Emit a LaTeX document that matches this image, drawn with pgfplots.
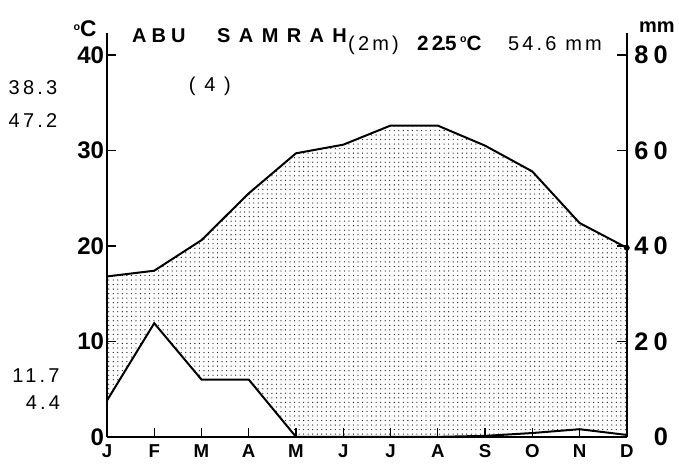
\documentclass[border=0pt]{standalone}
\usepackage{fontspec}
\setmainfont{Liberation Sans}
\newfontfamily\spacedA[LetterSpace=25]{Liberation Sans}
\newfontfamily\spacedB[LetterSpace=42]{Liberation Sans}
\newfontfamily\spacedC[LetterSpace=16]{Liberation Sans}
\usepackage{pgfplots}
\pgfplotsset{compat=1.18}
\usepgfplotslibrary{fillbetween}
\usetikzlibrary{patterns.meta}

\begin{document}
\begin{tikzpicture}
\begin{axis}[
  at={(0,0)}, anchor=south west,
  width=390pt, height=303pt, scale only axis,
  xmin=0, xmax=11, ymin=0, ymax=42.3,
  axis x line=bottom, axis y line=left,
  axis line style={-, line width=1.2pt},
  tick align=inside,
  major tick length=7pt,
  tick style={line width=1pt, black},
  xtick={0,...,11},
  xticklabels={J,F,M,A,M,J,J,A,S,O,N,D},
  xticklabel style={font=\bfseries\fontsize{14}{15}\selectfont, yshift=-2pt},
  ytick={0,10,20,30,40},
  /pgf/number format/assume math mode=true,
  yticklabel style={font=\bfseries\fontsize{18}{19}\selectfont, inner sep=1pt, xshift=-1pt},
  clip=false,
]
  % temperature, deg C
  \addplot[name path=T, line width=1.5pt, black] coordinates {
    (0,16.8) (1,17.4) (2,20.6) (3,25.5) (4,29.7) (5,30.6)
    (6,32.6) (7,32.6) (8,30.5) (9,27.8) (10,22.4) (11,19.8)};
  % precipitation, in deg C units (mm/2)
  \addplot[name path=P, line width=1.5pt, black] coordinates {
    (0,3.8) (1,11.9) (2,6.0) (3,6.0) (4,0) (5,0)
    (6,0) (7,0) (8,0.1) (9,0.4) (10,0.8) (11,0.2)};
  \addplot[draw=none, pattern={Dots[distance=3.4pt, radius=0.5pt]}, pattern color=black!85]
    fill between[of=T and P];
  \addplot[only marks, mark=*, mark size=2pt, black] coordinates {(11,19.8)};
\end{axis}
\begin{axis}[
  at={(0,0)}, anchor=south west,
  width=390pt, height=303pt, scale only axis,
  xmin=0, xmax=11, ymin=0, ymax=84.6,
  axis x line=none, axis y line=right,
  axis line style={-, line width=1.2pt},
  tick align=inside,
  major tick length=7pt,
  tick style={line width=1pt, black},
  ytick={0,20,40,60,80},
  yticklabels={0,{2\kern4pt0},{4\kern4pt0},{6\kern4pt0},{8\kern4pt0}},
  yticklabel style={font=\bfseries\fontsize{19}{20}\selectfont, anchor=east, inner sep=0pt, xshift=31pt},
]
  \addplot[draw=none] coordinates {(0,0)};
\end{axis}
\begin{scope}[x=0.75pt, y=-0.75pt, shift={(-80.25pt,327.75pt)}]
  \path (0,0) rectangle (679,466);
  \node[font=\bfseries\fontsize{17}{18}\selectfont] at (85,29) {\raisebox{5pt}{\fontsize{8}{9}\selectfont o}C};
  \node[font=\bfseries\fontsize{15}{16}\selectfont] at (657,27) {mm};
  \node[anchor=base west, font=\spacedA\bfseries\fontsize{15}{16}\selectfont, inner sep=0pt] at (132,43) {ABU};
  \node[anchor=base west, font=\spacedB\bfseries\fontsize{15}{16}\selectfont, inner sep=0pt] at (217,43) {SAMRAH};
  \node[anchor=base west, font=\spacedC\fontsize{15}{16}\selectfont, inner sep=0pt] at (348,51) {(2m)};
  \node[anchor=base west, font=\spacedC\bfseries\fontsize{15.5}{16}\selectfont, inner sep=0pt] at (417,51) {22\kern-2pt.\kern-1pt5\,\raisebox{6pt}{\fontsize{8}{9}\selectfont o}C};
  \node[anchor=base west, font=\spacedC\fontsize{15}{16}\selectfont, inner sep=0pt] at (508,51) {54.6 mm};
  \node[font=\spacedC\fontsize{15}{16}\selectfont] at (210,86) {( 4 )};
  \node[font=\spacedC\fontsize{15}{16}\selectfont] at (33,88) {38.3};
  \node[font=\spacedC\fontsize{15}{16}\selectfont] at (33,121) {47.2};
  \node[font=\spacedC\fontsize{15}{16}\selectfont] at (36,376) {11.7};
  \node[font=\spacedC\fontsize{15}{16}\selectfont] at (43,403) {4.4};
\end{scope}
\end{tikzpicture}
\end{document}
